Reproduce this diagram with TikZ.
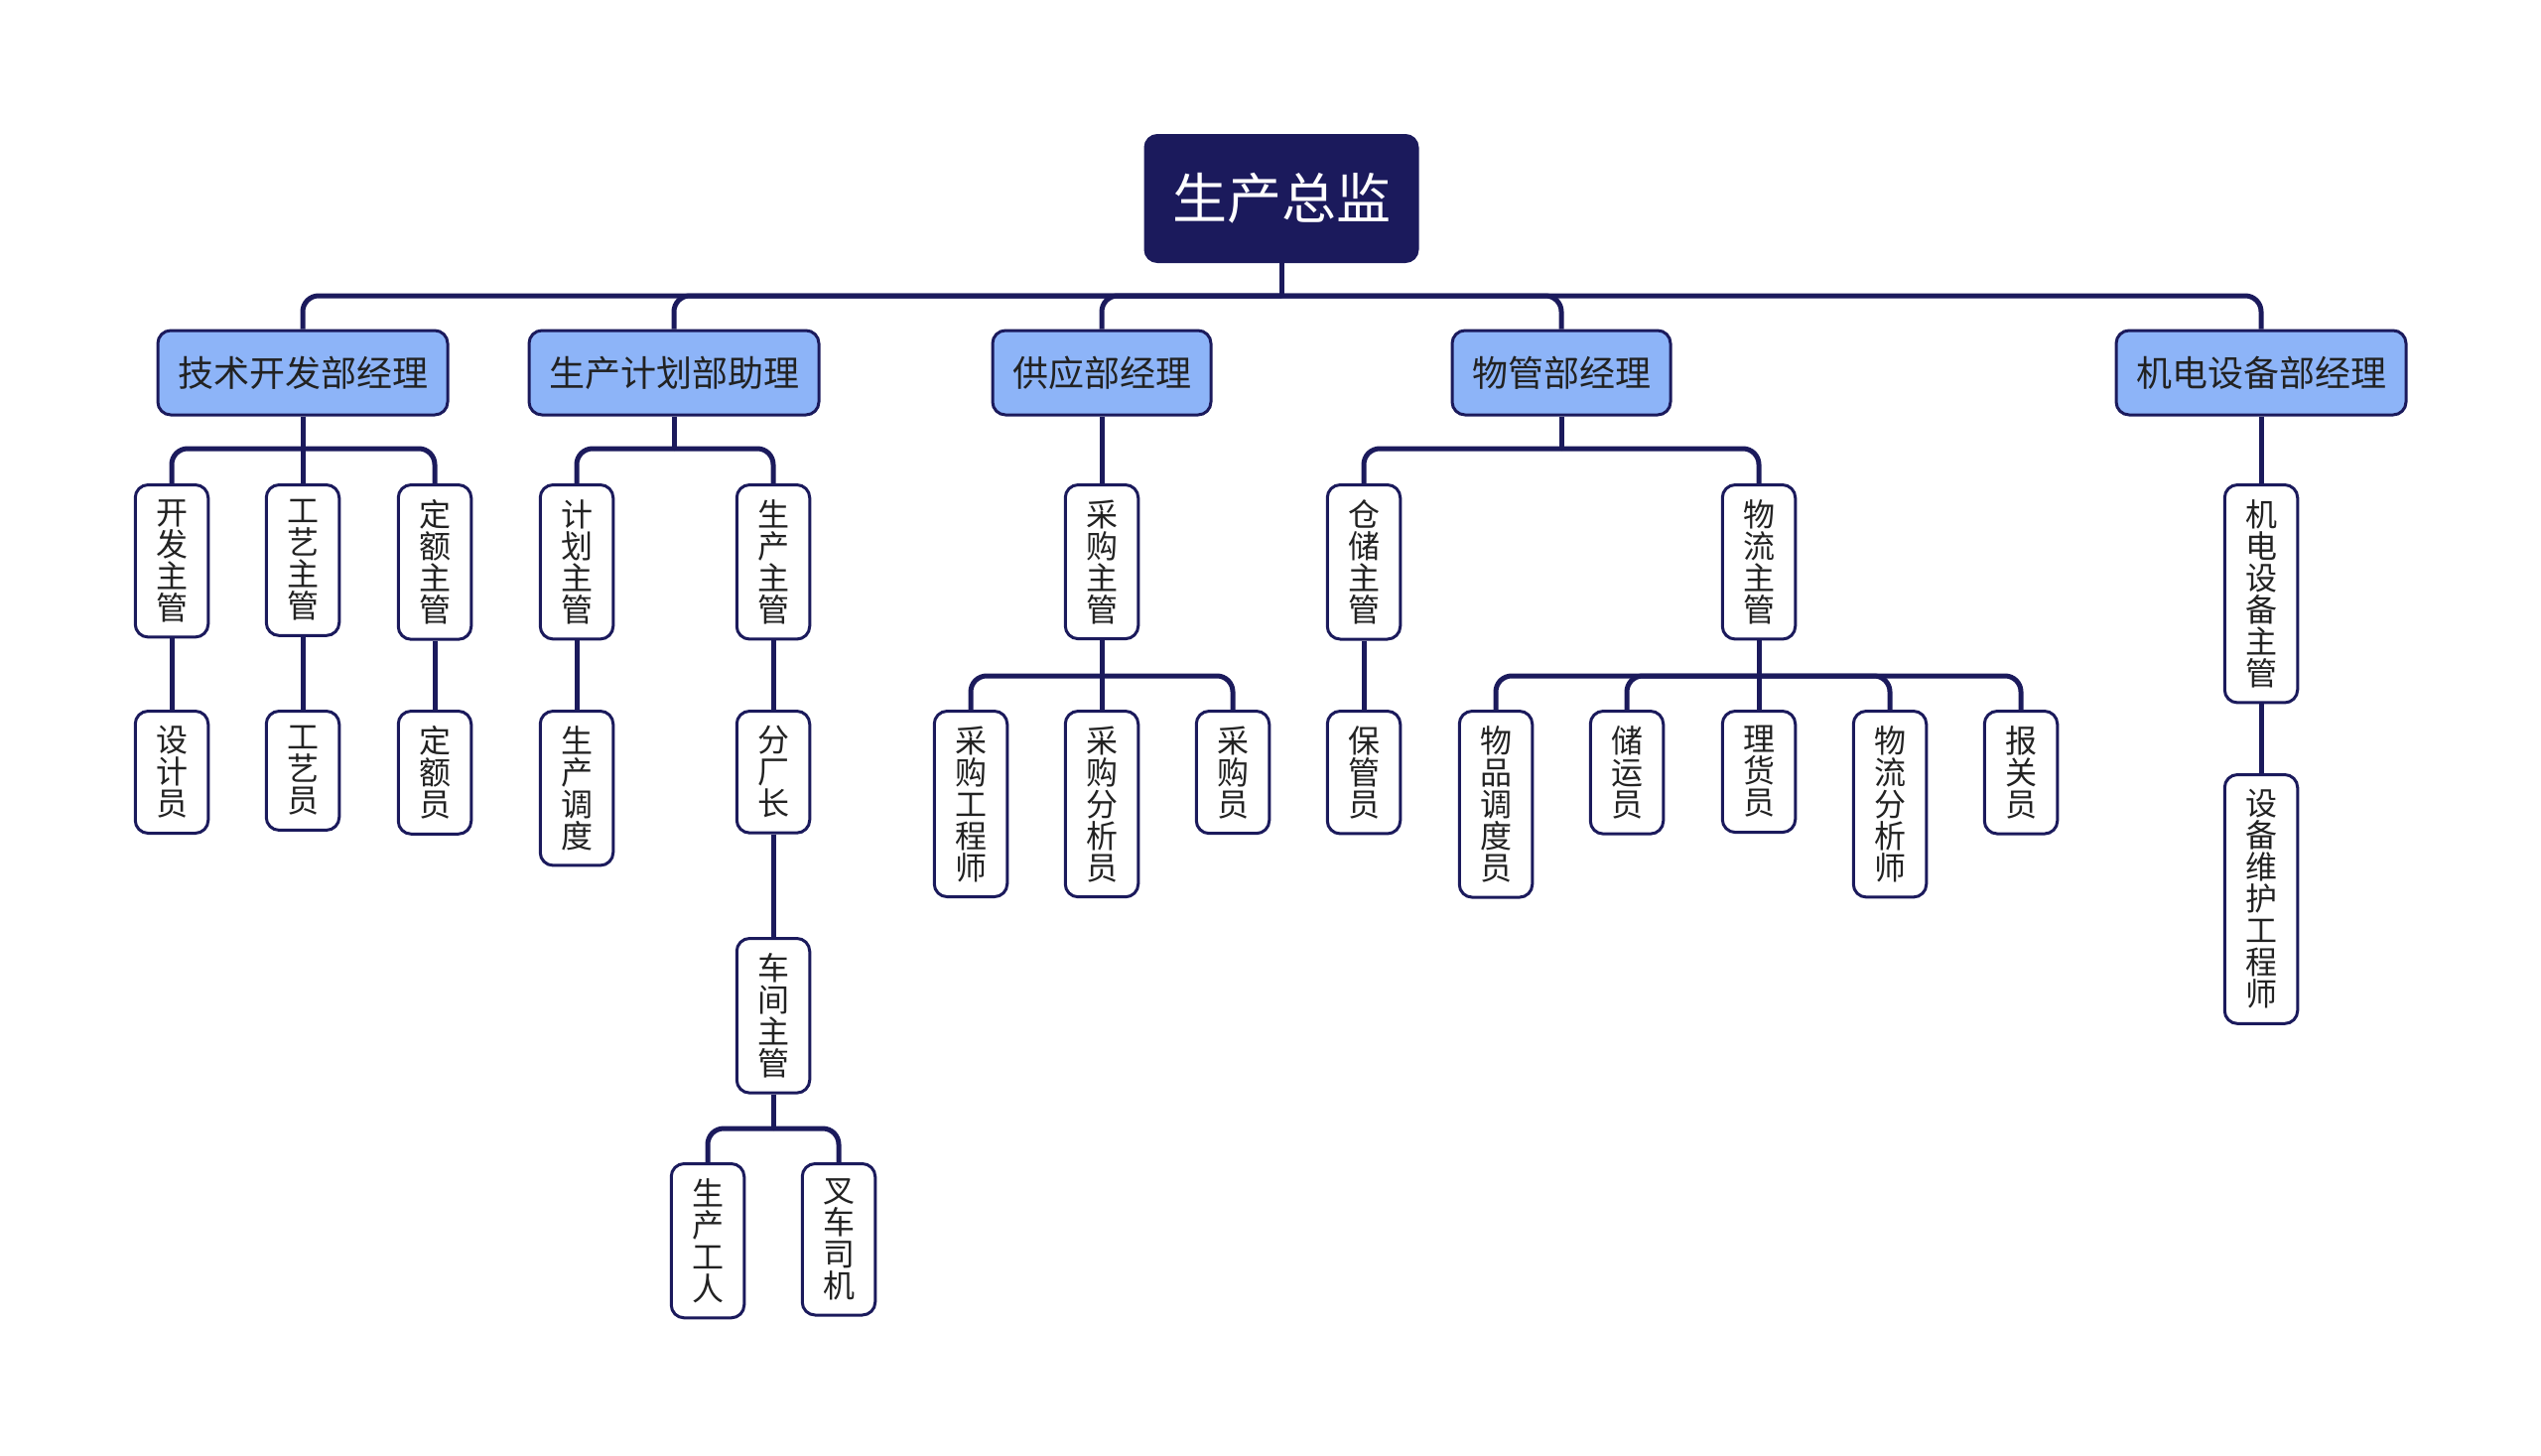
\documentclass[tikz,border=0pt]{standalone}
\usepackage{fontspec}
\setmainfont{Noto Sans CJK SC}
\usetikzlibrary{positioning}
\definecolor{navy}{HTML}{1B1A5C}
\definecolor{lblue}{HTML}{8DB4F8}
\definecolor{txt}{HTML}{222222}
\tikzset{
  rootbox/.style={draw=navy, fill=navy, line width=1.5pt, rounded corners=6pt, text=white,
    minimum width=137pt, minimum height=63.5pt, inner sep=0pt,
    font=\fontsize{27.5}{30}\selectfont},
  deptbox/.style={draw=navy, fill=lblue, line width=1.5pt, rounded corners=6.5pt, text=txt,
    minimum height=42.5pt, inner xsep=10pt, inner ysep=0pt,
    font=\fontsize{18}{20}\selectfont},
  leafbox/.style={draw=navy, fill=white, line width=1.5pt, rounded corners=6.5pt, text=txt,
    minimum width=36.75pt, inner xsep=0pt, inner ysep=7.5pt, anchor=north, align=center,
    font=\fontsize{16}{16}\selectfont},
  conn/.style={draw=navy, line width=2.5pt, rounded corners=8pt},
}
\begin{document}
\begin{tikzpicture}[x=0.5pt, y=-0.5pt]
\useasboundingbox (0,0) rectangle (2560,1467);
% root
\node[rootbox] (root) at (1291,200) {生产总监};
% level 1
\node[deptbox] (d1) at (305,375.5) {技术开发部经理};
\node[deptbox] (d2) at (679,375.5) {生产计划部助理};
\node[deptbox] (d3) at (1110,375.5) {供应部经理};
\node[deptbox] (d4) at (1573,375.5) {物管部经理};
\node[deptbox] (d5) at (2278,375.5) {机电设备部经理};
% row A
\node[leafbox] (a1) at (173,487) {开\\发\\主\\管};
\node[leafbox] (a2) at (305,487) {工\\艺\\主\\管};
\node[leafbox] (a3) at (438,487) {定\\额\\主\\管};
\node[leafbox] (a4) at (581,487) {计\\划\\主\\管};
\node[leafbox] (a5) at (779,487) {生\\产\\主\\管};
\node[leafbox] (a6) at (1110,487) {采\\购\\主\\管};
\node[leafbox] (a7) at (1374,487) {仓\\储\\主\\管};
\node[leafbox] (a8) at (1772,487) {物\\流\\主\\管};
\node[leafbox] (a9) at (2278,487) {机\\电\\设\\备\\主\\管};
% row B
\node[leafbox] (b1) at (173,715) {设\\计\\员};
\node[leafbox] (b2) at (305,715) {工\\艺\\员};
\node[leafbox] (b3) at (438,715) {定\\额\\员};
\node[leafbox] (b4) at (581,715) {生\\产\\调\\度};
\node[leafbox] (b5) at (779,715) {分\\厂\\长};
\node[leafbox] (b6) at (978,715) {采\\购\\工\\程\\师};
\node[leafbox] (b7) at (1110,715) {采\\购\\分\\析\\员};
\node[leafbox] (b8) at (1242,715) {采\\购\\员};
\node[leafbox] (b9) at (1374,715) {保\\管\\员};
\node[leafbox] (b10) at (1507,715) {物\\品\\调\\度\\员};
\node[leafbox] (b11) at (1639,715) {储\\运\\员};
\node[leafbox] (b12) at (1772,715) {理\\货\\员};
\node[leafbox] (b13) at (1904,715) {物\\流\\分\\析\\师};
\node[leafbox] (b14) at (2036,715) {报\\关\\员};
\node[leafbox] (b15) at (2278,779) {设\\备\\维\\护\\工\\程\\师};
% row C, D
\node[leafbox] (c1) at (779,944) {车\\间\\主\\管};
\node[leafbox] (e1) at (713,1171) {生\\产\\工\\人};
\node[leafbox] (e2) at (845,1171) {叉\\车\\司\\机};
% bus junctions
\coordinate (j0) at (1291,298);
\coordinate (j1) at (305,452);
\coordinate (j2) at (679,452);
\coordinate (j4) at (1573,452);
\coordinate (j6) at (1110,681);
\coordinate (j8) at (1772,681);
\coordinate (jc) at (779,1137);
% root connectors
\draw[conn] (root.south) -- (j0);
\foreach \d in {d1,d2,d3,d4,d5} \draw[conn] (j0) -| (\d.north);
% dept 1
\draw[conn] (d1.south) -- (j1);
\draw[conn] (j1) -| (a1.north);
\draw[conn] (j1) -- (a2.north);
\draw[conn] (j1) -| (a3.north);
% dept 2
\draw[conn] (d2.south) -- (j2);
\draw[conn] (j2) -| (a4.north);
\draw[conn] (j2) -| (a5.north);
% dept 3
\draw[conn] (d3.south) -- (a6.north);
% dept 4
\draw[conn] (d4.south) -- (j4);
\draw[conn] (j4) -| (a7.north);
\draw[conn] (j4) -| (a8.north);
% dept 5
\draw[conn] (d5.south) -- (a9.north);
% row A -> B
\draw[conn] (a1.south) -- (b1.north);
\draw[conn] (a2.south) -- (b2.north);
\draw[conn] (a3.south) -- (b3.north);
\draw[conn] (a4.south) -- (b4.north);
\draw[conn] (a5.south) -- (b5.north);
\draw[conn] (a6.south) -- (j6);
\draw[conn] (j6) -| (b6.north);
\draw[conn] (j6) -- (b7.north);
\draw[conn] (j6) -| (b8.north);
\draw[conn] (a7.south) -- (b9.north);
\draw[conn] (a8.south) -- (j8);
\draw[conn] (j8) -| (b10.north);
\draw[conn] (j8) -| (b11.north);
\draw[conn] (j8) -- (b12.north);
\draw[conn] (j8) -| (b13.north);
\draw[conn] (j8) -| (b14.north);
\draw[conn] (a9.south) -- (b15.north);
% B -> C -> D
\draw[conn] (b5.south) -- (c1.north);
\draw[conn] (c1.south) -- (jc);
\draw[conn] (jc) -| (e1.north);
\draw[conn] (jc) -| (e2.north);
\end{tikzpicture}
\end{document}
